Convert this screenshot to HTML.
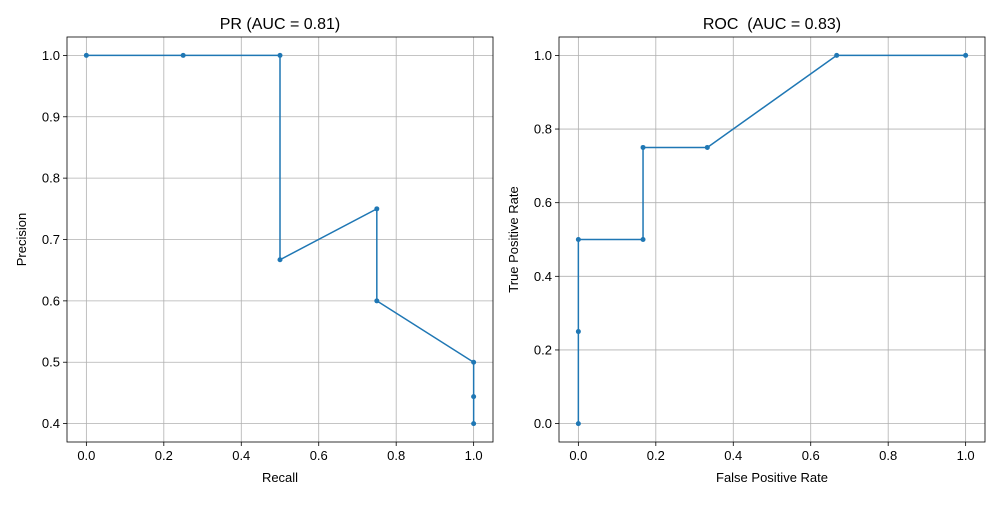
<!DOCTYPE html>
<html><head><meta charset="utf-8"><style>
body{margin:0;background:#fff;}
svg text{font-family:"Liberation Sans","DejaVu Sans",sans-serif;fill:#000;white-space:pre;}
</style></head><body>
<svg id="s" width="1000" height="500" xmlns="http://www.w3.org/2000/svg"></svg>
<script>
const prRecall=[0,0.25,0.5,0.5,0.75,0.75,1,1,1];
const prPrecision=[1,1,1,0.667,0.75,0.6,0.5,0.444,0.4];
const prXTicks=[0,0.2,0.4,0.6,0.8,1.0];
const prYTicks=[0.4,0.5,0.6,0.7,0.8,0.9,1.0];
const rocFpr=[0,0,0,0.167,0.167,0.333,0.667,1];
const rocTpr=[0,0.25,0.5,0.5,0.75,0.75,1,1];
const rocXTicks=[0,0.2,0.4,0.6,0.8,1.0];
const rocYTicks=[0,0.2,0.4,0.6,0.8,1.0];
const NS="http://www.w3.org/2000/svg";
const svg=document.getElementById('s');
function mk(t,a,p){const e=document.createElementNS(NS,t);for(const k in a)e.setAttribute(k,a[k]);(p||svg).appendChild(e);return e;}
function panel(o){
  const g=mk('g',{});
  
  
  const L=o.x0,R=o.x1,T=37,B=442;
  const sx=v=>L+(v-o.xmin)/(o.xmax-o.xmin)*(R-L);
  const sy=v=>B-(v-o.ymin)/(o.ymax-o.ymin)*(B-T);
  o.xt.forEach(v=>{
    const l=mk('line',{x1:sx(v),x2:sx(v),y1:T,y2:B,stroke:'#b0b0b0','stroke-width':0.8},g);
    
    mk('line',{x1:sx(v),x2:sx(v),y1:B,y2:B+4,stroke:'#000','stroke-width':0.8},g);
    const t=mk('text',{x:sx(v),y:B+18,'font-size':13,'text-anchor':'middle'},g);t.textContent=v.toFixed(1);
    
  });
  o.yt.forEach(v=>{
    const l=mk('line',{x1:L,x2:R,y1:sy(v),y2:sy(v),stroke:'#b0b0b0','stroke-width':0.8},g);
    
    mk('line',{x1:L-4,x2:L,y1:sy(v),y2:sy(v),stroke:'#000','stroke-width':0.8},g);
    const t=mk('text',{x:L-7,y:sy(v)+4.5,'font-size':13,'text-anchor':'end'},g);t.textContent=v.toFixed(1);
    
  });
  const pts=o.xs.map((x,i)=>sx(x)+','+sy(o.ys[i])).join(' ');
  const pl=mk('polyline',{points:pts,fill:'none',stroke:'#1f77b4','stroke-width':1.5},g);
  
  o.xs.forEach((x,i)=>{const c=mk('circle',{cx:sx(x),cy:sy(o.ys[i]),r:2.5,fill:'#1f77b4'},g);
    });
  const f=mk('rect',{x:L,y:T,width:R-L,height:B-T,fill:'none',stroke:'#000','stroke-width':0.8},g);
  
  const ti=mk('text',{x:(L+R)/2,y:29,'font-size':16,'text-anchor':'middle'},g);ti.textContent=o.title;
  
  const xl=mk('text',{x:(L+R)/2,y:482,'font-size':13,'text-anchor':'middle'},g);xl.textContent=o.xl;
  
  const yx=o.ylx;
  const yl=mk('text',{x:yx,y:(T+B)/2,'font-size':13,'text-anchor':'middle',transform:`rotate(-90 ${yx} ${(T+B)/2})`},g);yl.textContent=o.yl;
  
}
panel({name:'pr-chart',x0:67,x1:493,xmin:-0.05,xmax:1.05,ymin:0.37,ymax:1.03,xt:prXTicks,yt:prYTicks,xs:prRecall,ys:prPrecision,title:'PR (AUC = 0.81)',xl:'Recall',yl:'Precision',ylx:26});
panel({name:'roc-chart',x0:559,x1:985,xmin:-0.05,xmax:1.05,ymin:-0.05,ymax:1.05,xt:rocXTicks,yt:rocYTicks,xs:rocFpr,ys:rocTpr,title:'ROC  (AUC = 0.83)',xl:'False Positive Rate',yl:'True Positive Rate',ylx:518});
</script>
</body></html>
